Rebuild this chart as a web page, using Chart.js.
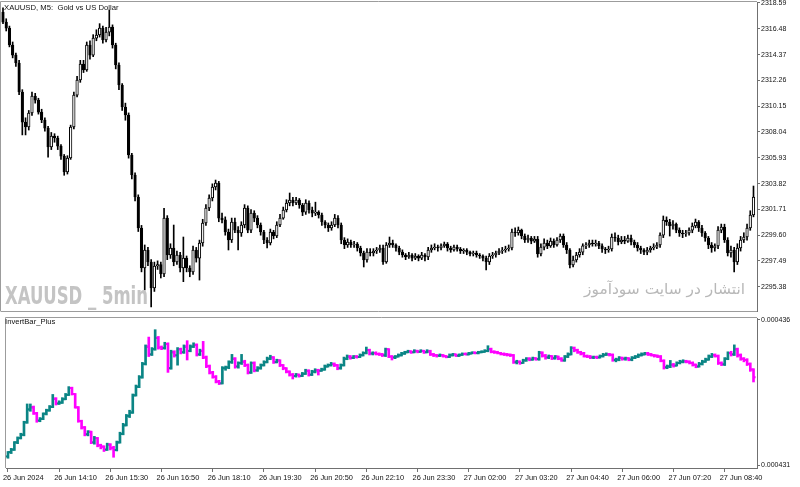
<!DOCTYPE html>
<html><head><meta charset="utf-8">
<script src="https://cdn.jsdelivr.net/npm/chart.js@4/dist/chart.umd.min.js"></script>
<style>
html,body{margin:0;padding:0;background:#fff;width:800px;height:487px;overflow:hidden;position:relative;}
canvas{position:absolute;left:0;}
#c1{top:0;}
#c2{top:312px;}
.t{position:absolute;font-family:'Liberation Sans',Arial,sans-serif;color:#111;white-space:pre;line-height:1;}
#wm{font-family:'Liberation Sans Narrow','DejaVu Sans Condensed','Liberation Sans',sans-serif;font-weight:bold;color:#c4c4c4;font-size:25px;transform-origin:left top;}
#fa{font-family:'DejaVu Sans',sans-serif;color:#b8b8b8;font-size:15px;direction:rtl;transform-origin:left top;}
</style></head><body>
<canvas id="c1" width="800" height="312"></canvas>
<canvas id="c2" width="800" height="175"></canvas>
<div class="t" style="left:4px;top:4px;font-size:7.7px">XAUUSD, M5:  Gold vs US Dollar</div>
<div class="t" style="left:5px;top:318px;font-size:7.7px">InvertBar_Plus</div>
<div class="t" id="wm" style="left:5px;top:283px">XAUUSD _ 5min</div>
<div class="t" id="fa" style="left:584px;top:282px">انتشار در سایت سودآموز</div>
<script>
// ---------- data (XAUUSD M5) ----------
const timeLabels = ['26 Jun 2024','26 Jun 14:10','26 Jun 15:30','26 Jun 16:50','26 Jun 18:10','26 Jun 19:30','26 Jun 20:50','26 Jun 22:10','26 Jun 23:30','27 Jun 02:00','27 Jun 03:20','27 Jun 04:40','27 Jun 06:00','27 Jun 07:20','27 Jun 08:40'];
const timeLabelBars = [0,16,32,48,64,80,96,112,128,144,160,176,192,208,224];
const priceTicks = [2318.59,2316.48,2314.37,2312.26,2310.15,2308.04,2305.93,2303.82,2301.71,2299.60,2297.49,2295.38];
const indicatorTicks = [0.00043632,0.00043112];

const closes = [
2317.03,2316.54,2315.15,2314.33,2313.68,2311.31,2308.85,2308.45,2309.59,2310.98,
2310.65,2309.67,2309.02,2308.36,2306.81,2307.71,2307.55,2306.89,2306.07,2304.77,
2305.91,2308.45,2311.06,2312.29,2313.60,2313.11,2315.15,2314.33,2315.72,2315.97,
2316.54,2315.56,2316.21,2316.62,2315.15,2313.52,2311.88,2310.08,2309.43,2306.16,
2304.52,2302.72,2300.19,2296.92,2298.39,2297.41,2295.28,2297.08,2297.20,2296.43,
2301.00,2297.98,2298.55,2297.41,2297.98,2296.92,2297.73,2296.92,2296.59,2298.39,
2297.73,2298.96,2300.60,2301.82,2302.64,2303.54,2303.87,2301.00,2300.85,2299.86,
2299.21,2300.68,2300.02,2299.78,2300.43,2301.82,2300.02,2301.41,2301.00,2300.43,
2299.86,2299.21,2298.96,2299.86,2299.53,2300.43,2301.00,2301.66,2302.23,2302.48,
2302.23,2302.48,2302.07,2301.49,2302.23,2301.66,2301.41,2301.49,2301.25,2300.68,
2300.43,2300.19,2300.43,2301.00,2300.43,2299.21,2298.80,2299.04,2298.80,2298.88,
2298.55,2298.14,2297.57,2298.22,2298.14,2298.31,2298.39,2298.55,2297.41,2298.80,
2298.96,2298.80,2298.55,2298.22,2297.98,2297.82,2297.98,2297.73,2297.90,2297.73,
2297.98,2297.82,2298.39,2298.55,2298.63,2298.55,2298.72,2298.88,2298.55,2298.39,
2298.63,2298.47,2298.31,2298.39,2298.22,2298.06,2298.14,2297.98,2297.90,2297.73,
2297.41,2297.90,2297.98,2298.14,2298.31,2298.39,2298.47,2298.55,2299.86,2299.78,
2300.02,2299.53,2299.21,2299.37,2299.12,2299.29,2298.06,2298.63,2298.96,2298.72,
2299.12,2298.80,2299.21,2299.53,2298.80,2298.39,2297.16,2297.57,2297.98,2298.22,
2298.72,2298.80,2298.96,2298.88,2298.96,2298.72,2298.47,2298.39,2298.47,2299.45,
2299.37,2299.04,2299.21,2299.12,2299.37,2299.04,2298.80,2298.55,2298.39,2298.22,
2298.39,2298.55,2298.63,2298.80,2299.61,2300.84,2300.68,2300.35,2300.51,2300.02,
2299.78,2299.70,2299.78,2300.02,2300.35,2300.68,2300.19,2299.78,2299.37,2298.80,
2298.55,2298.72,2300.02,2300.27,2299.21,2298.14,2298.39,2297.41,2298.55,2299.21,
2299.45,2300.19,2301.25,2302.72];

const opens = [
2317.85,2317.03,2316.54,2315.15,2314.33,2313.68,2311.31,2308.85,2308.45,2309.59,
2310.98,2310.65,2309.67,2309.02,2308.36,2306.81,2307.71,2307.55,2306.89,2306.07,
2304.77,2305.91,2308.45,2311.06,2312.29,2313.60,2313.11,2315.15,2314.33,2315.72,
2315.97,2316.54,2315.56,2316.21,2316.62,2315.15,2313.52,2311.88,2310.08,2309.43,
2306.16,2304.52,2302.72,2300.19,2296.92,2298.39,2297.41,2295.28,2297.08,2297.20,
2296.43,2301.00,2297.98,2298.55,2297.41,2297.98,2296.92,2297.73,2296.92,2296.59,
2298.39,2297.73,2298.96,2300.60,2301.82,2302.64,2303.54,2303.87,2301.00,2300.85,
2299.86,2299.21,2300.68,2300.02,2299.78,2300.43,2301.82,2300.02,2301.41,2301.00,
2300.43,2299.86,2299.21,2298.96,2299.86,2299.53,2300.43,2301.00,2301.66,2302.23,
2302.48,2302.23,2302.48,2302.07,2301.49,2302.23,2301.66,2301.41,2301.49,2301.25,
2300.68,2300.43,2300.19,2300.43,2301.00,2300.43,2299.21,2298.80,2299.04,2298.80,
2298.88,2298.55,2298.14,2297.57,2298.22,2298.14,2298.31,2298.39,2298.55,2297.41,
2298.80,2298.96,2298.80,2298.55,2298.22,2297.98,2297.82,2297.98,2297.73,2297.90,
2297.73,2297.98,2297.82,2298.39,2298.55,2298.63,2298.55,2298.72,2298.88,2298.55,
2298.39,2298.63,2298.47,2298.31,2298.39,2298.22,2298.06,2298.14,2297.98,2297.90,
2297.73,2297.41,2297.90,2297.98,2298.14,2298.31,2298.39,2298.47,2298.55,2299.86,
2299.78,2300.02,2299.53,2299.21,2299.37,2299.12,2299.29,2298.06,2298.63,2298.96,
2298.72,2299.12,2298.80,2299.21,2299.53,2298.80,2298.39,2297.16,2297.57,2297.98,
2298.22,2298.72,2298.80,2298.96,2298.88,2298.96,2298.72,2298.47,2298.39,2298.47,
2299.45,2299.37,2299.04,2299.21,2299.12,2299.37,2299.04,2298.80,2298.55,2298.39,
2298.22,2298.39,2298.55,2298.63,2298.80,2299.61,2300.84,2300.68,2300.35,2300.51,
2300.02,2299.78,2299.70,2299.78,2300.02,2300.35,2300.68,2300.19,2299.78,2299.37,
2298.80,2298.55,2298.72,2300.02,2300.27,2299.21,2298.14,2298.39,2297.41,2298.55,
2299.21,2299.45,2300.19,2301.25];

const highs = [
2318.20,2317.30,2316.70,2315.40,2314.50,2313.90,2311.50,2309.20,2309.80,2311.30,
2311.20,2310.80,2309.90,2309.20,2308.50,2308.00,2307.90,2307.70,2307.00,2306.20,
2306.10,2308.60,2311.30,2312.60,2313.90,2313.90,2315.40,2315.50,2316.00,2316.40,
2316.90,2316.70,2316.60,2318.01,2316.80,2315.30,2313.70,2312.00,2310.40,2309.60,
2306.30,2304.70,2302.90,2300.40,2298.80,2298.60,2297.60,2297.40,2297.50,2297.40,
2301.80,2301.20,2298.90,2300.43,2298.30,2298.20,2299.45,2297.90,2297.10,2298.70,
2298.60,2299.20,2300.90,2302.10,2302.90,2303.80,2304.11,2304.00,2301.40,2301.10,
2300.10,2301.00,2301.00,2300.30,2300.70,2302.10,2302.00,2301.70,2301.60,2301.20,
2300.60,2300.00,2299.40,2300.10,2300.00,2300.70,2301.30,2301.90,2302.50,2303.05,
2302.70,2302.70,2302.60,2302.20,2302.50,2302.40,2301.90,2302.30,2301.60,2301.40,
2300.80,2300.60,2300.70,2301.30,2301.20,2300.60,2299.40,2299.30,2299.20,2299.10,
2299.00,2298.70,2298.30,2298.50,2298.50,2298.50,2298.60,2298.80,2298.80,2299.00,
2299.45,2299.20,2298.90,2298.70,2298.40,2298.10,2298.20,2298.10,2298.10,2298.00,
2298.20,2298.10,2298.60,2298.80,2298.90,2298.80,2298.90,2299.04,2299.00,2298.70,
2298.80,2298.80,2298.60,2298.50,2298.50,2298.30,2298.30,2298.30,2298.10,2298.00,
2297.90,2298.10,2298.20,2298.30,2298.50,2298.60,2298.70,2298.80,2300.10,2300.20,
2300.27,2300.10,2299.70,2299.60,2299.50,2299.50,2299.50,2298.90,2299.30,2299.20,
2299.37,2299.30,2299.40,2299.70,2299.70,2299.00,2298.50,2297.90,2298.20,2298.50,
2298.90,2299.00,2299.20,2299.20,2299.20,2299.10,2298.90,2298.60,2298.70,2299.70,
2299.80,2299.60,2299.50,2299.50,2299.60,2299.60,2299.20,2299.00,2298.70,2298.50,
2298.60,2298.70,2298.90,2299.00,2299.80,2301.17,2301.10,2300.90,2300.80,2300.60,
2300.20,2300.00,2300.00,2300.20,2300.60,2300.92,2300.80,2300.40,2299.90,2299.50,
2299.00,2298.90,2300.30,2300.51,2300.50,2299.40,2298.70,2298.60,2298.90,2299.50,
2299.80,2300.50,2301.60,2303.62];

const lows = [
2316.90,2316.30,2315.00,2314.10,2313.40,2311.10,2307.80,2307.80,2308.20,2309.40,
2310.40,2309.50,2308.80,2308.10,2305.99,2306.60,2307.20,2306.60,2305.80,2304.50,
2304.60,2305.80,2308.30,2310.90,2312.10,2312.90,2313.00,2314.00,2314.20,2315.50,
2315.80,2315.30,2315.40,2315.90,2314.90,2313.20,2311.50,2309.80,2309.00,2305.90,
2304.20,2302.40,2299.90,2296.60,2295.12,2297.10,2293.73,2295.00,2296.80,2296.10,
2296.20,2297.60,2297.70,2297.10,2297.20,2296.60,2295.80,2296.60,2296.20,2296.40,
2297.40,2295.93,2298.70,2300.40,2301.60,2302.40,2303.30,2300.70,2300.60,2299.60,
2298.39,2299.00,2299.80,2298.39,2299.50,2300.20,2299.80,2299.80,2300.70,2300.20,
2299.60,2298.90,2298.55,2298.80,2299.30,2299.40,2300.30,2300.90,2301.50,2302.00,
2302.00,2302.10,2301.80,2301.20,2301.30,2301.40,2301.10,2301.20,2301.00,2300.40,
2300.20,2299.90,2300.00,2300.30,2300.20,2298.90,2298.50,2298.60,2298.60,2298.60,
2298.30,2297.90,2297.00,2297.40,2297.90,2297.90,2298.10,2298.20,2297.20,2297.30,
2298.60,2298.60,2298.30,2298.00,2297.80,2297.60,2297.70,2297.50,2297.60,2297.50,
2297.60,2297.50,2297.60,2298.20,2298.40,2298.30,2298.40,2298.60,2298.30,2298.20,
2298.30,2298.30,2298.10,2298.10,2298.00,2297.90,2297.90,2297.80,2297.70,2297.50,
2296.75,2297.20,2297.70,2297.80,2298.00,2298.10,2298.20,2298.30,2298.40,2299.50,
2299.60,2299.30,2299.00,2299.00,2298.90,2299.00,2297.80,2297.90,2298.40,2298.50,
2298.60,2298.60,2298.70,2299.00,2298.60,2298.10,2296.92,2297.00,2297.40,2297.80,
2298.00,2298.50,2298.60,2298.70,2298.70,2298.50,2298.20,2298.10,2298.20,2298.30,
2299.10,2298.80,2298.90,2298.90,2299.00,2298.80,2298.60,2298.30,2298.10,2298.00,
2298.00,2298.20,2298.40,2298.50,2298.60,2299.40,2300.40,2299.53,2300.10,2299.80,
2299.50,2299.40,2299.50,2299.60,2299.80,2300.20,2299.90,2299.50,2299.10,2298.50,
2298.20,2298.30,2298.50,2299.80,2299.00,2297.90,2297.80,2296.59,2297.20,2298.30,
2299.00,2299.20,2300.00,2301.10];

// ---------- styling ----------
const FRAME = '#9c9c9c';
const AXIS = '#707070';
const TXT = '#111111';
const TEAL = '#0b8585';
const MAGENTA = '#ff00ff';
const tickFont = {family:"'Liberation Sans', Arial, sans-serif", size:7};

const frame = {
  id:'frame',
  afterDraw(chart, args, o){
    const {ctx, chartArea:a} = chart;
    ctx.save();
    ctx.lineWidth = 1;
    ctx.strokeStyle = o.color;
    ctx.beginPath();
    ctx.moveTo(a.left - 0.5, a.bottom);
    ctx.lineTo(a.left - 0.5, a.top - 0.5);
    ctx.lineTo(a.right, a.top - 0.5);
    if (o.bottom) { ctx.moveTo(a.left - 0.5, a.bottom + 0.5); ctx.lineTo(a.right, a.bottom + 0.5); }
    ctx.stroke();
    ctx.restore();
  }
};

const idx = closes.map((c, i) => i);
const xMin = -0.62, xMax = 234.09;

function yAxisFit(s){ s.width = 43; s.paddingTop = 0; s.paddingBottom = 0; }

// ---------- main price chart ----------
new Chart(document.getElementById('c1'), {
  type: 'bar',
  data: {
    datasets: [
      {
        label: 'body',
        data: idx.map(i => ({x: i, y: [opens[i], closes[i]]})),
        backgroundColor: idx.map(i => closes[i] >= opens[i] ? '#ffffff' : '#000000'),
        borderColor: '#000000',
        borderWidth: 1,
        borderSkipped: false,
        barThickness: 2.6,
        minBarLength: 1,
        grouped: false,
        order: 1
      },
      {
        label: 'wick',
        data: idx.map(i => ({x: i, y: [lows[i], highs[i]]})),
        backgroundColor: '#000000',
        barThickness: 1,
        grouped: false,
        order: 2
      }
    ]
  },
  options: {
    responsive: false, animation: false, devicePixelRatio: 1,
    layout: {padding: {left: 1, right: 0, top: 2, bottom: 1}},
    plugins: {legend: {display: false}, tooltip: {enabled: false}, frame: {color: FRAME, bottom: true}},
    scales: {
      x: {type: 'linear', offset: false, min: xMin, max: xMax, display: false},
      y: {
        position: 'right', min: 2293.40, max: 2318.67,
        afterFit: yAxisFit,
        afterBuildTicks(s){ s.ticks = priceTicks.map(v => ({value: v})); },
        ticks: {autoSkip: false, callback: v => Number(v).toFixed(2), font: tickFont, color: TXT, padding: 1},
        grid: {drawOnChartArea: false, tickLength: 3, color: AXIS},
        border: {color: AXIS}
      }
    }
  },
  plugins: [frame]
});

// ---------- InvertBar_Plus sub-window ----------
const barColors = idx.map(i => closes[i] < opens[i] ? TEAL : (closes[i] > opens[i] ? MAGENTA : '#808080'));
new Chart(document.getElementById('c2'), {
  type: 'bar',
  data: {
    datasets: [
      {
        type: 'line', showLine: false,
        data: idx.map(i => ({x: i - 0.3, y: 1 / opens[i]})),
        pointStyle: 'line', pointRadius: 1.1, pointBorderWidth: 2,
        pointBorderColor: barColors, order: 1
      },
      {
        type: 'line', showLine: false,
        data: idx.map(i => ({x: i + 0.3, y: 1 / closes[i]})),
        pointStyle: 'line', pointRadius: 1.1, pointBorderWidth: 2,
        pointBorderColor: barColors, order: 1
      },
      {
        data: idx.map(i => ({x: i, y: [1 / lows[i], 1 / highs[i]]})),
        backgroundColor: barColors,
        barThickness: 2,
        minBarLength: 1,
        grouped: false,
        order: 2
      }
    ]
  },
  options: {
    responsive: false, animation: false, devicePixelRatio: 1,
    layout: {padding: {left: 1, right: 0, top: 3, bottom: 0}},
    plugins: {legend: {display: false}, tooltip: {enabled: false}, frame: {color: FRAME, bottom: false}},
    scales: {
      x: {
        type: 'linear', offset: false, min: xMin, max: xMax, position: 'bottom',
        afterFit(s){ s.height = 19; s.paddingLeft = 0; s.paddingRight = 0; },
        afterBuildTicks(s){ s.ticks = timeLabelBars.map(v => ({value: v})); },
        ticks: {autoSkip: false, maxRotation: 0, align: 'start', padding: 2, labelOffset: -5,
                callback: (v, k) => timeLabels[k], font: {family: "'Liberation Sans', Arial, sans-serif", size: 7.4}, color: TXT},
        grid: {drawOnChartArea: false, offset: false, tickLength: 4, color: AXIS},
        border: {color: AXIS}
      },
      y: {
        position: 'right', min: 0.00043102, max: 0.00043639,
        afterFit: yAxisFit,
        afterBuildTicks(s){ s.ticks = indicatorTicks.map(v => ({value: v})); },
        ticks: {autoSkip: false, callback: v => Number(v).toFixed(6), font: tickFont, color: TXT, padding: 1},
        grid: {drawOnChartArea: false, tickLength: 3, color: AXIS},
        border: {color: AXIS}
      }
    }
  },
  plugins: [frame]
});

// fit watermark texts to their widths in the picture
function fitWidth(id, w){
  const el = document.getElementById(id);
  const r = el.getBoundingClientRect();
  if (r.width > 0) el.style.transform = 'scaleX(' + (w / r.width) + ')';
}
fitWidth('wm', 143);
fitWidth('fa', 161);
</script>
</body></html>
